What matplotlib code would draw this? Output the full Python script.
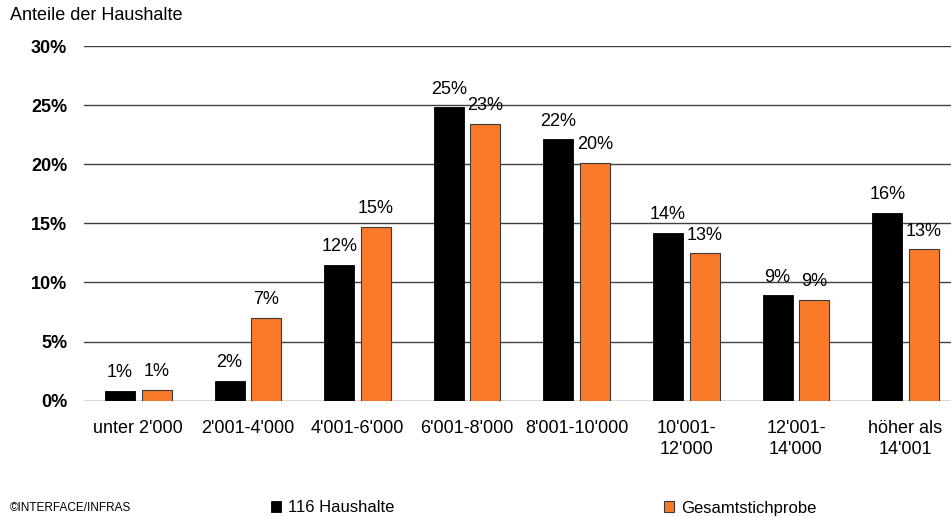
import matplotlib.pyplot as plt
import numpy as np

plt.rcParams['font.family'] = ['Liberation Sans', 'DejaVu Sans']

# Haushaltseinkommen-Klassen
categories = ["unter 2'000", "2'001-4'000", "4'001-6'000", "6'001-8'000",
              "8'001-10'000", "10'001-\n12'000", "12'001-\n14'000", "höher als\n14'001"]
haushalte_116 = [0.85, 1.7, 11.5, 24.8, 22.1, 14.2, 8.9, 15.9]
gesamt = [0.9, 7.0, 14.7, 23.4, 20.1, 12.45, 8.5, 12.8]
labels_116 = ['1%', '2%', '12%', '25%', '22%', '14%', '9%', '16%']
labels_gesamt = ['1%', '7%', '15%', '23%', '20%', '13%', '9%', '13%']
yticks = [0, 5, 10, 15, 20, 25, 30]

fig = plt.figure(figsize=(9.51, 5.17), dpi=100)
ax = fig.add_axes([0.0883, 0.225, 0.9117, 0.686])

x = np.arange(len(categories))
w = 0.274
off = 0.167
b1 = ax.bar(x - off, haushalte_116, w, color='black', edgecolor='black', linewidth=0.6, zorder=3)
b2 = ax.bar(x + off, gesamt, w, color='#FA7A2A', edgecolor='#3a3a3a', linewidth=0.8, zorder=3)

for xi, v, t in zip(x, haushalte_116, labels_116):
    ax.annotate(t, (xi - off, v), xytext=(0, 7), textcoords='offset points',
                ha='center', va='bottom', fontsize=13)
for xi, v, t in zip(x, gesamt, labels_gesamt):
    ax.annotate(t, (xi + off, v), xytext=(0, 7), textcoords='offset points',
                ha='center', va='bottom', fontsize=13)

ax.set_xlim(-0.495, 7.415)
ax.set_ylim(0, 30)
ax.set_yticks(yticks)
ax.set_yticklabels([f'{t}%' for t in yticks], fontweight='bold', fontsize=13)
ax.set_xticks(x)
ax.set_xticklabels(categories, fontsize=13, linespacing=1.3, va='top')
ax.tick_params(length=0, axis='both')
ax.tick_params(axis='y', pad=12)
ax.tick_params(axis='x', pad=14)
for s in ax.spines.values():
    s.set_visible(False)
ax.yaxis.grid(True, color='#404040', linewidth=1, zorder=0)

fig.text(10 / 951, 1 - 15 / 517, 'Anteile der Haushalte', fontsize=13, va='center', ha='left')
fig.text(10 / 951, 1 - 508 / 517, '©INTERFACE/INFRAS', fontsize=8.5, va='center', ha='left')

fig.legend([b1, b2], ['116 Haushalte', 'Gesamtstichprobe'], ncol=2,
           loc='center left', bbox_to_anchor=(256 / 951, 1 - 508 / 517),
           frameon=False, fontsize=12, handlelength=0.6, handleheight=0.6,
           handletextpad=0.4, columnspacing=16.2)

fig.savefig('out.png', dpi=100)
